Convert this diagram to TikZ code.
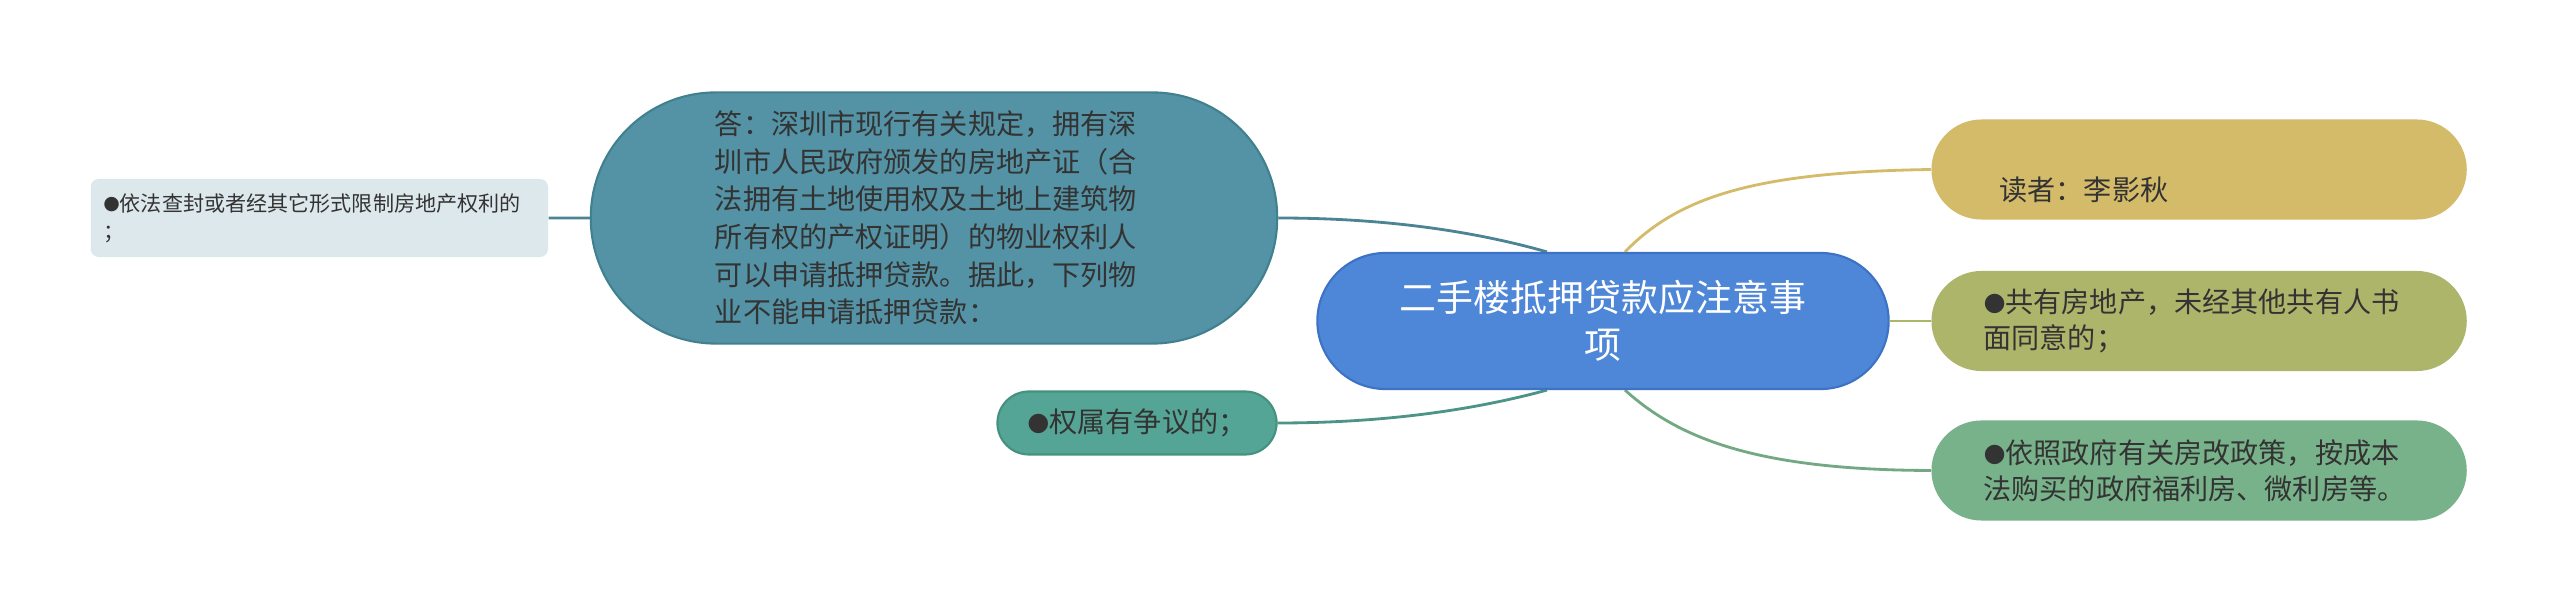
\documentclass[tikz,border=0pt]{standalone}
\usepackage{fontspec}
\newfontfamily\cjk{Noto Sans CJK SC}
\newfontfamily\dotfont{DejaVu Sans}
\newcommand{\dotmark}{{\dotfont\raisebox{0.06em}{\scalebox{0.9}{●}}}}
\usetikzlibrary{positioning,backgrounds}
\definecolor{inktext}{HTML}{333333}
\definecolor{rootfill}{HTML}{4E86D8}
\definecolor{rootedge}{HTML}{3D72C4}
\definecolor{ansfill}{HTML}{5393A5}
\definecolor{ansedge}{HTML}{41808F}
\definecolor{leaffill}{HTML}{DDE8EC}
\definecolor{dispfill}{HTML}{55A596}
\definecolor{dispedge}{HTML}{44917F}
\definecolor{readfill}{HTML}{D4BB6A}
\definecolor{coownfill}{HTML}{ADB56B}
\definecolor{welffill}{HTML}{78B28A}

\begin{document}
\begin{tikzpicture}[
            x = 0.01cm, y = 0.01cm,
            node distance = 0.41cm and 0.41cm,
            every node/.style = {rectangle, font=\cjk, text=inktext, inner sep=0pt},
            root/.style = {fill=rootfill, draw=rootedge, line width=0.6pt, text=white,
                           minimum width=5.71cm, minimum height=1.36cm, rounded corners=0.68cm,
                           align=center, font=\cjk\fontsize{10.5}{13.4}\selectfont},
            answer/.style = {fill=ansfill, draw=ansedge, line width=0.6pt,
                             minimum width=6.86cm, minimum height=2.51cm, rounded corners=1.25cm,
                             text width=4.38cm, align=left, font=\cjk\fontsize{8}{10.7}\selectfont},
            pill/.style = {minimum width=5.35cm, minimum height=1cm, rounded corners=0.5cm,
                           text width=4.31cm, align=left, font=\cjk\fontsize{8}{10.2}\selectfont},
            wire/.style = {line width=0.8pt}
                                 ]
            \useasboundingbox (0,0) rectangle (2560,615);
            \node [root] (CEN) at (1603,294) {二手楼抵押贷款应注意事\\项};
            \node [answer] (ANS) at (934,397) {答：深圳市现行有关规定，拥有深\\圳市人民政府颁发的房地产证（合\\法拥有土地使用权及土地上建筑物\\所有权的产权证明）的物业权利人\\可以申请抵押贷款。据此，下列物\\业不能申请抵押贷款：};
            \node [fill=leaffill, minimum width=4.57cm, minimum height=0.78cm, rounded corners=0.08cm,
                   text width=4.32cm, align=left, font=\cjk\fontsize{6}{8}\selectfont,
                   left = of ANS] (SEAL) {\dotmark 依法查封或者经其它形式限制房地产权利的\\；};
            \node [fill=dispfill, draw=dispedge, line width=0.6pt, minimum width=2.79cm, minimum height=0.63cm,
                   rounded corners=0.315cm, font=\cjk\fontsize{8}{10.2}\selectfont] (DISP) at (1137,192) {\dotmark 权属有争议的；};
            \node [pill, fill=coownfill, right = of CEN] (COOWN) {\dotmark 共有房地产，未经其他共有人书\\面同意的；};
            \node [pill, fill=readfill, text width=3.99cm, text height=17.5pt, text depth=0pt,
                   above = 0.5cm of COOWN] (READ) {读者：李影秋};
            \node [pill, fill=welffill, below = 0.48cm of COOWN] (WELF) {\dotmark 依照政府有关房改政策，按成本\\法购买的政府福利房、微利房等。};
            %
            \begin{scope}[on background layer]
            \fill [white] (0,0) rectangle (2560,615);
            \draw [wire, color=ansfill!90!black] ([xshift=-0.56cm]CEN.north) .. controls (1470,385) and (1380,397) .. (ANS.east)
                                (ANS.west) -- (SEAL.east);
            \draw [wire, color=dispfill!90!black] ([xshift=-0.56cm]CEN.south) .. controls (1470,204) and (1380,192) .. (DISP.east);
            \draw [wire, color=readfill] ([xshift=0.22cm]CEN.north) .. controls (1680,420) and (1760,443) .. (READ.west);
            \draw [wire, color=coownfill] (CEN.east) -- (COOWN.west);
            \draw [wire, color=welffill!95!black] ([xshift=0.22cm]CEN.south) .. controls (1680,175) and (1760,145) .. (WELF.west);
            \end{scope}
    \end{tikzpicture}
\end{document}
